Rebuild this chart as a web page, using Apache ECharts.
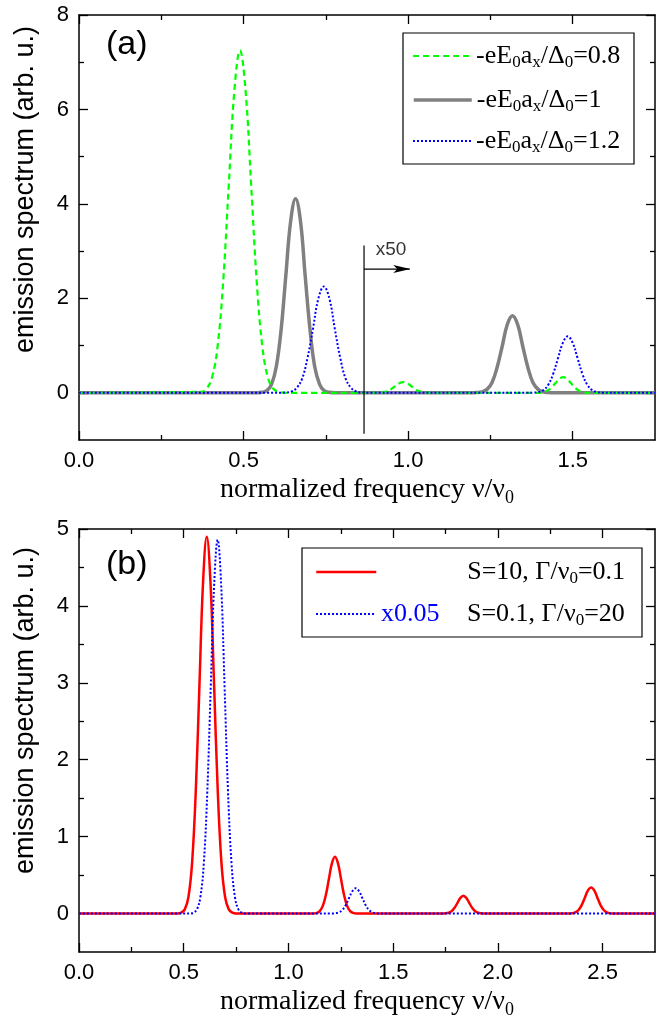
<!DOCTYPE html>
<html><head><meta charset="utf-8">
<script src="https://cdn.jsdelivr.net/npm/echarts@6/dist/echarts.min.js"></script>
<style>html,body{margin:0;padding:0;background:#fff}#c{width:672px;height:1022px}</style>
</head><body><div id="c"></div>
<script>
// ---------------- data: panel (a) ----------------
const green08 = [[0,0],[0.37,0.02],[0.387,0.08],[0.404,0.32],[0.421,0.98],[0.438,2.35],[0.455,4.40],[0.472,6.40],[0.489,7.25],[0.506,6.40],[0.523,4.40],[0.540,2.35],[0.557,0.98],[0.574,0.32],[0.591,0.08],[0.608,0.02],[0.63,0],
 [0.91,0],[0.9225,0.01],[0.935,0.03],[0.9475,0.073],[0.96,0.136],[0.9725,0.199],[0.985,0.225],[0.9975,0.199],[1.01,0.136],[1.0225,0.073],[1.035,0.03],[1.0475,0.01],[1.06,0],
 [1.40,0],[1.411,0.0145],[1.423,0.045],[1.435,0.107],[1.447,0.20],[1.459,0.291],[1.471,0.33],[1.483,0.291],[1.495,0.20],[1.507,0.107],[1.519,0.045],[1.531,0.0145],[1.545,0],[1.75,0]];
const gray10 = [[0,0],[0.54,0],[0.556,0.01],[0.5705,0.046],[0.585,0.18],[0.5995,0.556],[0.614,1.33],[0.6285,2.49],[0.643,3.63],[0.658,4.11],[0.673,3.63],[0.687,2.49],[0.702,1.33],[0.716,0.556],[0.731,0.18],[0.745,0.046],[0.760,0.01],[0.78,0],
 [1.19,0],[1.208,0.004],[1.224,0.018],[1.2395,0.072],[1.255,0.22],[1.27,0.53],[1.286,0.99],[1.301,1.44],[1.317,1.63],[1.333,1.44],[1.348,0.99],[1.364,0.53],[1.379,0.22],[1.395,0.072],[1.41,0.018],[1.426,0.004],[1.445,0],[1.75,0]];
const blue12 = [[0,0],[0.61,0],[0.628,0.005],[0.645,0.025],[0.661,0.099],[0.678,0.30],[0.694,0.73],[0.711,1.36],[0.727,1.99],[0.744,2.25],[0.761,1.99],[0.777,1.36],[0.794,0.73],[0.81,0.30],[0.827,0.099],[0.843,0.025],[0.86,0.005],[0.88,0],
 [1.36,0],[1.38,0.003],[1.395,0.013],[1.41,0.052],[1.425,0.162],[1.44,0.388],[1.455,0.725],[1.47,1.055],[1.485,1.195],[1.50,1.055],[1.515,0.725],[1.53,0.388],[1.545,0.162],[1.56,0.052],[1.575,0.013],[1.59,0.003],[1.61,0],[1.75,0]];
// x50 annotation
const x50Line = [[0.866,3.12],[0.866,-0.87]];
const x50Arrow = [[0.866,2.62],[1.005,2.62]];
const x50Text = [[0.948,3.02]];

// ---------------- data: panel (b) ----------------
const redS10 = [[0,0],[0.47,0],[0.4875,0.011],[0.505,0.054],[0.5225,0.215],[0.54,0.663],[0.5575,1.59],[0.575,2.97],[0.5925,4.32],[0.61,4.9],[0.6275,4.32],[0.645,2.97],[0.6625,1.59],[0.68,0.663],[0.6975,0.215],[0.715,0.054],[0.7325,0.011],[0.75,0],
 [1.12,0],[1.135,0.008],[1.1495,0.032],[1.164,0.10],[1.1785,0.24],[1.193,0.449],[1.2075,0.653],[1.222,0.74],[1.2365,0.653],[1.251,0.449],[1.2655,0.24],[1.28,0.10],[1.2945,0.032],[1.309,0.008],[1.325,0],
 [1.74,0],[1.765,0.01],[1.779,0.031],[1.793,0.075],[1.807,0.14],[1.821,0.203],[1.835,0.23],[1.849,0.203],[1.863,0.14],[1.877,0.075],[1.891,0.031],[1.905,0.01],[1.93,0],
 [2.34,0],[2.355,0.004],[2.37,0.015],[2.385,0.046],[2.40,0.11],[2.415,0.206],[2.43,0.30],[2.445,0.34],[2.46,0.30],[2.475,0.206],[2.49,0.11],[2.505,0.046],[2.52,0.015],[2.535,0.004],[2.55,0],[2.75,0]];
const blueS01 = [[0,0],[0.53,0],[0.5465,0.011],[0.563,0.054],[0.5795,0.213],[0.596,0.658],[0.6125,1.58],[0.629,2.95],[0.6455,4.29],[0.662,4.86],[0.6785,4.29],[0.695,2.95],[0.7115,1.58],[0.728,0.658],[0.7445,0.213],[0.761,0.054],[0.7775,0.011],[0.795,0],
 [1.21,0],[1.225,0.004],[1.241,0.015],[1.257,0.045],[1.273,0.107],[1.289,0.20],[1.305,0.29],[1.321,0.33],[1.337,0.29],[1.353,0.20],[1.369,0.107],[1.385,0.045],[1.401,0.015],[1.417,0.004],[1.435,0],[2.75,0]];

// ---------------- ticks ----------------
const xMajorA = [0,0.5,1.0,1.5], xMinorA = [0.25,0.75,1.25];
const yMajorA = [0,2,4,6,8], yMinorA = [1,3,5,7];
const xMajorB = [0,0.5,1.0,1.5,2.0,2.5], xMinorB = [0.25,0.75,1.25,1.75,2.25];
const yMajorB = [0,1,2,3,4,5], yMinorB = [0.5,1.5,2.5,3.5,4.5];

// ---------------- legend texts ----------------
const legendTextA = {
  g08:'{t|-eE}{sub|0}{t|a}{sub|x}{t|/Δ}{sub|0}{t|=0.8}',
  g10:'{t|-eE}{sub|0}{t|a}{sub|x}{t|/Δ}{sub|0}{t|=1}',
  g12:'{t|-eE}{sub|0}{t|a}{sub|x}{t|/Δ}{sub|0}{t|=1.2}'
};
const legendTextB = {
  rS10:'{pre| }{t|S=10, Γ/ν}{sub|0}{t|=0.1}',
  bS01:'{preb|x0.05}{t|S=0.1, Γ/ν}{sub|0}{t|=20}'
};

const BLACK = '#000';
const tickFont = {fontFamily:'Liberation Sans', fontSize:22, color:BLACK};
const xName = 'normalized frequency ν/ν{sub|0}';
const xNameStyle = {fontFamily:'Liberation Serif', fontSize:28, color:BLACK,
  rich:{sub:{fontFamily:'Liberation Serif', fontSize:18, color:BLACK, padding:[16,0,0,0]}}};
const yName = 'emission spectrum (arb. u.)';

function xAxes(gi, max, major, minor){
  const c = {type:'value', gridIndex:gi, min:0, max:max, splitLine:{show:false}};
  const line = {show:true, onZero:false, lineStyle:{color:BLACK, width:1.5}};
  const tk = (len, vals)=>({show:true, inside:true, length:len, customValues:vals, lineStyle:{color:BLACK, width:1.3}});
  return [
    Object.assign({}, c, {position:'bottom', axisLine:line, axisTick:tk(9,major),
      axisLabel:Object.assign({show:true, customValues:major, margin:10, formatter:v=>v.toFixed(1)}, tickFont),
      name:xName, nameLocation:'middle', nameGap:33, nameTextStyle:xNameStyle}),
    Object.assign({}, c, {position:'bottom', axisLine:{show:false,onZero:false}, axisTick:tk(5,minor), axisLabel:{show:false}}),
    Object.assign({}, c, {position:'top', axisLine:line, axisTick:tk(9,major), axisLabel:{show:false}}),
    Object.assign({}, c, {position:'top', axisLine:{show:false,onZero:false}, axisTick:tk(5,minor), axisLabel:{show:false}})
  ];
}
function yAxes(gi, min, max, major, minor, shift){
  const c = {type:'value', gridIndex:gi, min:min, max:max, splitLine:{show:false}};
  const line = {show:true, onZero:false, lineStyle:{color:BLACK, width:1.5}};
  const tk = (len, vals)=>({show:true, inside:true, length:len, customValues:vals, lineStyle:{color:BLACK, width:1.3}});
  return [
    Object.assign({}, c, {position:'left', axisLine:line, axisTick:tk(9,major),
      axisLabel:Object.assign({show:true, customValues:major, margin:10, formatter:v=>String(v)}, tickFont),
      name:yName, nameLocation:'middle', nameGap:40,
      nameTextStyle:{fontFamily:'Liberation Sans', fontSize:27, color:BLACK, padding:[0,0,0,shift]}}),
    Object.assign({}, c, {position:'left', axisLine:{show:false,onZero:false}, axisTick:tk(5,minor), axisLabel:{show:false}}),
    Object.assign({}, c, {position:'right', axisLine:line, axisTick:tk(9,major), axisLabel:{show:false}}),
    Object.assign({}, c, {position:'right', axisLine:{show:false,onZero:false}, axisTick:tk(5,minor), axisLabel:{show:false}})
  ];
}

const legendRich = {
  t:{fontFamily:'Liberation Serif', fontSize:26, color:BLACK},
  sub:{fontFamily:'Liberation Serif', fontSize:17, color:BLACK, padding:[14,0,0,0]},
  pre:{fontFamily:'Liberation Serif', fontSize:26, color:BLACK, width:86},
  preb:{fontFamily:'Liberation Serif', fontSize:26, color:'#0000ff', width:86}
};
function oneLegend(name, left, top, w, map, lw){
  const lg = {data:[name], orient:'vertical', left:left, top:top, padding:0, itemWidth:w, itemHeight:14,
    selectedMode:false, formatter:n=>map[n], textStyle:{rich:legendRich},
    itemStyle:{opacity:0, color:'rgba(0,0,0,0)', borderWidth:0}};
  if (lw) lg.lineStyle = {width:lw};
  return lg;
}

const arrowPath = 'path://M0,0 L17,4 L0,8 L4,4 Z';
const SM = 0.4;

const option = {
  animation:false,
  backgroundColor:'#fff',
  grid:[
    {left:79, top:15, width:576, height:425},
    {left:79, top:529, width:576, height:423}
  ],
  xAxis:[].concat(xAxes(0,1.75,xMajorA,xMinorA), xAxes(1,2.75,xMajorB,xMinorB)),
  yAxis:[].concat(yAxes(0,-1,8,yMajorA,yMinorA,76), yAxes(1,-0.5,5,yMajorB,yMinorB,60)),
  legend:[
    oneLegend('g08', 412, 43, 58, legendTextA, 2.2),
    oneLegend('g10', 412, 87, 58, legendTextA, 3.5),
    oneLegend('g12', 412, 128, 58, legendTextA, 2),
    oneLegend('rS10', 315, 559, 60, legendTextB, 2.5),
    oneLegend('bS01', 315, 601, 60, legendTextB, 2)
  ],
  graphic:[
    {type:'rect', silent:true, shape:{x:403,y:33,width:231,height:131}, style:{fill:'none', stroke:BLACK, lineWidth:1.2}},
    {type:'rect', silent:true, shape:{x:302,y:548,width:340,height:89}, style:{fill:'none', stroke:BLACK, lineWidth:1.2}},
    {type:'text', silent:true, left:106, top:28, style:{text:'(a)', font:'34px "Liberation Sans"', fill:BLACK}},
    {type:'text', silent:true, left:106, top:548, style:{text:'(b)', font:'34px "Liberation Sans"', fill:BLACK}}
  ],
  series:[
    {type:'line', name:'g10', xAxisIndex:0, yAxisIndex:0, data:gray10, symbol:'none', smooth:SM, z:2,
      lineStyle:{color:'#808080', width:3.5}, itemStyle:{color:'#808080'}},
    {type:'line', name:'g08', xAxisIndex:0, yAxisIndex:0, data:green08, symbol:'none', smooth:SM, z:3,
      lineStyle:{color:'#00ff00', width:2.2, type:[6,4]}, itemStyle:{color:'#00ff00'}},
    {type:'line', name:'g12', xAxisIndex:0, yAxisIndex:0, data:blue12, symbol:'none', smooth:SM, z:4,
      lineStyle:{color:'#0000ff', width:2, type:[2,2]}, itemStyle:{color:'#0000ff'}},
    {type:'line', name:'x50line', xAxisIndex:0, yAxisIndex:0, data:x50Line, symbol:'none', silent:true, z:5,
      lineStyle:{color:BLACK, width:1.2}},
    {type:'line', name:'x50arrow', xAxisIndex:0, yAxisIndex:0, silent:true, z:5, showSymbol:true,
      data:x50Arrow.map((p,i)=> i===x50Arrow.length-1 ? {value:p, symbol:arrowPath, symbolSize:[17,8], symbolOffset:[-8,0]} : {value:p, symbol:'none'}),
      lineStyle:{color:BLACK, width:1.2}, itemStyle:{color:BLACK}},
    {type:'scatter', name:'x50text', xAxisIndex:0, yAxisIndex:0, data:x50Text, symbolSize:1, silent:true,
      itemStyle:{color:'rgba(0,0,0,0)'},
      label:{show:true, position:'inside', formatter:'x50', fontFamily:'Liberation Sans', fontSize:19, color:BLACK}},
    {type:'line', name:'rS10', xAxisIndex:4, yAxisIndex:4, data:redS10, symbol:'none', smooth:SM, z:3,
      lineStyle:{color:'#ff0000', width:2.5}, itemStyle:{color:'#ff0000'}},
    {type:'line', name:'bS01', xAxisIndex:4, yAxisIndex:4, data:blueS01, symbol:'none', smooth:SM, z:4,
      lineStyle:{color:'#0000ff', width:2, type:[2,2]}, itemStyle:{color:'#0000ff'}}
  ]
};
const chart = echarts.init(document.getElementById('c'), null, {renderer:'canvas'});
chart.setOption(option);
</script></body></html>
